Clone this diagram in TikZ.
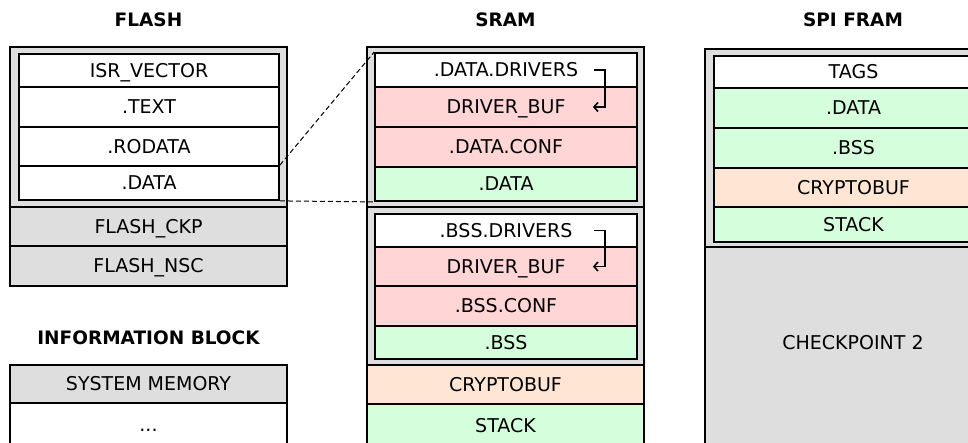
\documentclass[tikz,border=0pt]{standalone}
\usepackage{fontspec}
\setmainfont{DejaVu Sans}
\usepackage{tikz}
\usetikzlibrary{arrows.meta}

\definecolor{memgray}{RGB}{222,222,222}
\definecolor{mempink}{RGB}{255,213,213}
\definecolor{memgreen}{RGB}{213,255,220}
\definecolor{mempeach}{RGB}{255,230,212}
\newcommand{\memfont}{\fontsize{19}{22}\selectfont}
\newcommand{\ttlfont}{\bfseries\fontsize{18.5}{22}\selectfont}

\begin{document}
\begin{tikzpicture}[x=1pt, y=-1pt,
		row/.style={draw, line width=1.8pt, inner sep=0pt, font=\memfont, text height=13.9pt, text depth=0pt},
		flashin/.style={row, minimum width=260},
		flashout/.style={row, minimum width=277},
		sramin/.style={row, minimum width=262},
		sramout/.style={row, minimum width=277},
		framin/.style={row, minimum width=279},
		framout/.style={row, minimum width=296},
		title/.style={font=\ttlfont, inner sep=0pt},
		link/.style={line width=1pt, dash pattern=on 5pt off 3pt},
		hook/.style={line width=1.6pt, -{Straight Barb[length=4pt, width=9pt]}}]
	\useasboundingbox (0,0) rectangle (968,443);
	\clip (0,0) rectangle (968,443);
	% titles
	\node[title] (flashttl) at (148.5,20) {FLASH};
	\node[title] (sramttl) at (505.5,20) {SRAM};
	\node[title] (framttl) at (853,20) {SPI FRAM};
	\node[title] (infottl) at (148.5,337.5) {INFORMATION BLOCK};
	% flash
	\node[flashout, fill=memgray, minimum height=160] (flashgrp) at (148.5,127) {};
	\node[flashin, fill=white, minimum height=33] (isr) at (149,70.5) {ISR\_VECTOR};
	\node[flashin, fill=white, minimum height=40] (text) at (149,107) {.TEXT};
	\node[flashin, fill=white, minimum height=39] (rodata) at (149,146.5) {.RODATA};
	\node[flashin, fill=white, minimum height=34] (fdata) at (149,183) {.DATA};
	\node[flashout, fill=memgray, minimum height=39] (ckp) at (148.5,226.5) {FLASH\_CKP};
	\node[flashout, fill=memgray, minimum height=40] (nsc) at (148.5,266) {FLASH\_NSC};
	% information block
	\node[flashout, fill=memgray, minimum height=38] (sysmem) at (148.5,384) {SYSTEM MEMORY};
	\node[flashout, fill=white, minimum height=44] (dots) at (148.5,425) {...};
	% sram
	\node[sramout, fill=memgray, minimum height=160] (dgrp) at (505.5,127) {};
	\node[sramin, fill=white, minimum height=34] (ddrv) at (506,70) {.DATA.DRIVERS};
	\node[sramin, fill=mempink, minimum height=40] (dbuf) at (506,107) {DRIVER\_BUF};
	\node[sramin, fill=mempink, minimum height=40] (dconf) at (506,147) {.DATA.CONF};
	\node[sramin, fill=memgreen, minimum height=34] (sdata) at (506,184) {.DATA};
	\node[sramout, fill=memgray, minimum height=158] (bgrp) at (505.5,286) {};
	\node[sramin, fill=white, minimum height=33] (bdrv) at (506,230.5) {.BSS.DRIVERS};
	\node[sramin, fill=mempink, minimum height=39] (bbuf) at (506,266.5) {DRIVER\_BUF};
	\node[sramin, fill=mempink, minimum height=40] (bconf) at (506,306) {.BSS.CONF};
	\node[sramin, fill=memgreen, minimum height=33] (sbss) at (506,342.5) {.BSS};
	\node[sramout, fill=mempeach, minimum height=39] (scrypt) at (505.5,384.5) {CRYPTOBUF};
	\node[sramout, fill=memgreen, minimum height=44] (sstack) at (505.5,426) {STACK};
	% spi fram
	\node[framout, fill=memgray, minimum height=198] (fgrp) at (853,148) {};
	\node[framin, fill=white, minimum height=32] (tags) at (853.5,72) {TAGS};
	\node[framin, fill=memgreen, minimum height=40] (fdat) at (853.5,108) {.DATA};
	\node[framin, fill=memgreen, minimum height=40] (fbss) at (853.5,148) {.BSS};
	\node[framin, fill=mempeach, minimum height=39] (fcrypt) at (853.5,187.5) {CRYPTOBUF};
	\node[framin, fill=memgreen, minimum height=35] (fstack) at (853.5,224.5) {STACK};
	\node[framout, fill=memgray, minimum height=200, text depth=8pt] (ckpt) at (853,347) {CHECKPOINT 2};
	% .data copied from flash into sram
	\draw[link] (fdata.north east) -- (ddrv.north west);
	\draw[link] (fdata.south east) -- (sdata.south west);
	% driver sections point at their buffers
	\draw[hook] ([xshift=-44pt]ddrv.east) -- ++(11,0) |- ([xshift=-45pt]dbuf.east);
	\draw[hook] ([xshift=-44pt]bdrv.east) -- ++(11,0) |- ([xshift=-45pt]bbuf.east);
\end{tikzpicture}
\end{document}
